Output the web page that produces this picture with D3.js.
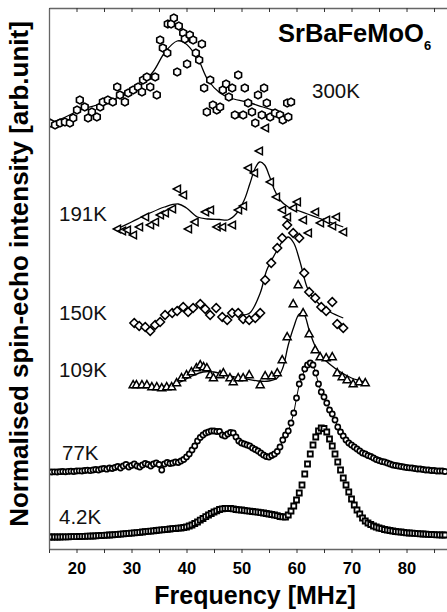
<!DOCTYPE html>
<html>
<head>
<meta charset="utf-8">
<script src="https://cdn.jsdelivr.net/npm/d3@7"></script>
<style>
  body { margin: 0; background: #fff; }
  svg { display: block; }
  text { font-family: Arial, "Liberation Sans", sans-serif; }
</style>
</head>
<body>
<svg width="447" height="612"></svg>
<script>
// ---- data (frequency in MHz, intensity in arb. units incl. vertical offset) ----

// 300K (hexagons)
var f300 = [15.2,16.1,17.0,17.9,18.8,19.4,20.1,20.6,21.5,22.1,22.8,23.7,24.3,24.8,25.7,26.6,27.4,27.9,28.8,29.4,
            30.3,31.2,31.9,32.1,32.8,33.4,34.3,34.6,35.2,35.7,36.5,36.6,37.2,37.7,38.3,38.6,39.4,39.7,40.1,40.6,
            41.2,41.7,42.3,42.8,43.2,43.7,44.3,44.8,45.5,46.1,46.6,47.2,47.7,48.3,48.8,49.4,50.3,50.6,51.2,51.9,
            52.5,53.0,53.7,54.1,54.6,55.2,56.1,57.0,57.5,58.3,58.5,59.0];
var v300 = [426,424,426,427,426,431,439,449,442,431,437,432,442,447,449,447,462,454,447,456,
            459,462,457,469,472,462,472,454,509,501,496,525,525,531,477,523,516,510,485,514,
            509,496,489,505,461,437,469,444,439,442,459,465,452,461,434,474,434,461,446,437,
            426,454,434,461,446,432,436,434,429,446,432,447];
var fit300f = [15.2,18,20.6,25.5,31,33.9,36.1,38.3,39.4,41.9,43.9,46.1,47.9,51,53.9,57.5];
var fit300v = [426,432,439,447,461,477,497,508,507,492,469,456,451,447,442,436];

// 191K (left triangles)
var f191 = [27.4,28.3,29.2,30.3,31.4,32.5,33.4,34.3,35.2,36.1,37.4,38.3,39.4,40.3,41.5,43.4,44.3,45.5,46.5,48.3,
            49.4,50.3,51.2,52.3,53.2,54.3,55.2,56.3,57.4,58.3,59.4,60.1,61.2,62.1,63.4,64.3,65.4,66.5,67.2,68.5];
var v191 = [320,318,319,314,322,332,324,327,334,336,340,360,354,320,327,337,339,322,322,324,
            339,343,381,376,398,421,367,352,339,332,341,347,329,316,337,326,329,323,332,317];
var fit191f = [27.3,30,33,36,38.5,40,42,44,46,47.5,49,50.5,51.5,52.5,53.3,54.2,55,56,57,58.5,60,62,64,66,68.5];
var fit191v = [320,327,335,342,345,341,332,330,329.5,329,335,349,365,381,387,384,374,359,349,342,339,335,331,327,322];

// 150K (diamonds)
var f150 = [30.5,31.4,32.5,33.4,34.3,35.2,36.1,37.4,38.3,39.4,40.3,41.2,42.5,43.4,44.3,45.4,46.5,47.4,48.3,49.4,
            50.3,51.4,52.5,53.4,54.3,55.4,56.5,57.4,58.3,59.4,60.5,61.4,62.3,63.4,64.5,65.4,66.5,67.4,68.5];
var v150 = [226,223,222,218,224,227,234,236,238,242,237,241,245,240,234,241,232,229,236,236,
            230,229,231,236,269,286,301,311,324,316,311,276,257,251,242,238,247,225,221];
var fit150f = [50,51.5,53.4,54.6,56.5,57.5,58.5,59.5,60.6,61.9,62.8,64.3,66.1,68.5];
var fit150v = [234,236,256,279,299,308,312,306,288,262,253,244,237,231];

// 109K (up triangles)
var f109 = [30.3,30.9,31.9,32.8,33.7,34.6,35.5,36.4,37.3,38.2,39.1,40.0,40.9,41.8,42.5,43.1,43.7,44.3,44.9,46.1,
            46.7,47.9,48.5,49.4,50.3,51.4,53.4,54.3,55.5,56.5,57.4,58.3,59.4,60.3,61.2,62.3,63.4,64.3,65.4,66.5,
            67.4,68.3,69.2,70.3,71.4,72.5];
var v109 = [164,164,164,164,162,162,161,162,162,166,171,174,177,181,184,182,181,174,171,174,
            176,171,167,171,171,174,164,173,173,176,189,212,245,264,236,215,199,192,191,192,
            176,172,169,165,167,166];
var fit109f = [30,34,38,41,43,45,47,50,53,55,56.5,57.5,58.5,59.5,60.5,61.3,62.3,63.3,64.5,66,68,70,72.5];
var fit109v = [163,162,165,173,177,177,174,171,168,168,171,181,204,222,235,235,219,204,193,185,177,171,167];

// dense sweeps: 15 ... 87 MHz in 0.5 MHz steps
var sweepStart = 15, sweepStep = 0.5;
// 77K (circles)
var v77 = [77,77,77.2,77,77.3,77.5,77.2,77.6,77.8,77.5,
           78,78.2,78,78.5,78.8,78.4,79,79.5,79,80,
           80.5,79.8,81,80.5,81.5,82.5,81,83,84.5,82,
           83.5,85,83,82,84,85.5,84.5,83,85,86,
           84.5,79,85,86.5,85.5,86,87,86.5,88,89.5,
           92,95,99,103,108,111.5,114,116,117,118,
           118,117.5,117.5,114,113,115,116.5,116,112,108,
           106,105,104,103,101,99.5,98,96,94,92.5,
           92,93.5,95,97.5,102,109,114,118,126,136,
           151,165,172,180,184,186,184,176,165,157,
           152,146,139,135,129,122,117,113,109,106,
           104,102,100,98,96,95,93.5,92.5,91,89.5,
           88.5,87.5,87,86,85,84,83.5,83,82.5,82,
           81.5,81.2,81,80.5,80,80,79.5,79,79,78.5,
           78.5,78,78,78,77.5];
// 4.2K (squares)
var v4 = [12,12,12,12,12,12.1,12.2,12.2,12.3,12.3,
          12.4,12.5,12.6,12.7,12.8,12.9,13,13.2,13.3,13.5,
          13.6,13.8,14,14.2,14.4,14.6,14.8,15.1,15.3,15.6,
          15.8,16.1,16.4,16.7,17,17.3,17.6,17.9,18.2,18.5,
          18.8,19.1,19.4,19.7,20,20.3,20.5,20.8,21,21.5,
          22,23,24,25.5,27,28.8,30.5,32.3,34,35.5,
          37,38.2,39.5,40.2,40.5,40.6,40.5,40.1,39.5,39.2,
          39,38.6,38.2,37.8,37.5,37.1,36.8,36.4,36,35.5,
          35,34.5,34,33.3,32.5,32.2,32,34,38,43,
          49,56,64,75,85,95,104,112,118,121,
          120.5,117,110,103,95,87,79,71,64,57,
          50,44,39,35,31,28,26,24.5,23,22,
          21,20.3,19.5,19,18.5,18,17.5,17.2,17,16.6,
          16.2,16,15.8,15.6,15.4,15.2,15,14.8,14.6,14.5,
          14.3,14.2,14.1,14,14];

var majorTicks = [20,30,40,50,60,70,80];
var minorTicks = [15,25,35,45,55,65,75,85];
var tempLabels = ["300K","191K","150K","109K","77K","4.2K"];

// ---- layout ----
var svg = d3.select("svg"),
    mLeft = 49, mRight = 447, mTop = 8, mBottom = 549;

var x = d3.scaleLinear().domain([15, 87.36]).range([mLeft, mRight]);
var y = d3.scaleLinear().domain([0, 541]).range([mBottom, mTop]);

function zip(fs, vs){ return fs.map(function(f, i){ return {f: f, v: vs[i]}; }); }
function sweep(vs){ return vs.map(function(v, i){ return {f: sweepStart + i*sweepStep, v: v}; }); }

svg.append("defs").append("clipPath").attr("id", "plotclip")
  .append("rect").attr("x", mLeft).attr("y", mTop - 5).attr("width", mRight - mLeft + 5).attr("height", mBottom - mTop + 5);

var plot = svg.append("g").attr("clip-path", "url(#plotclip)");

var line = d3.line().x(function(d){ return x(d.f); }).y(function(d){ return y(d.v); })
  .curve(d3.curveCatmullRom.alpha(0.5));

// fit lines
[[fit300f, fit300v], [fit191f, fit191v], [fit150f, fit150v], [fit109f, fit109v]].forEach(function(p){
  plot.append("path").datum(zip(p[0], p[1]))
    .attr("d", line).attr("fill", "none").attr("stroke", "#000").attr("stroke-width", 1.3);
});
// 77K connecting line
plot.append("path").datum(sweep(v77))
  .attr("d", d3.line().x(function(d){ return x(d.f); }).y(function(d){ return y(d.v); }))
  .attr("fill", "none").attr("stroke", "#000").attr("stroke-width", 1);

// marker shapes
function hexagon(r){
  var p = d3.path();
  for (var k = 0; k < 6; k++){
    var a = Math.PI/6 + k*Math.PI/3;
    if (k === 0) p.moveTo(r*Math.cos(a), r*Math.sin(a)); else p.lineTo(r*Math.cos(a), r*Math.sin(a));
  }
  p.closePath();
  return p.toString();
}
var shapes = {
  hex: hexagon(3.9),
  ltri: "M-3.9,0L3.3,-3.8L3.3,3.8Z",
  diamond: "M0,-4.4L4.4,0L0,4.4L-4.4,0Z",
  utri: "M0,-4.4L4,2.7L-4,2.7Z",
  square: "M-2.5,-2.5h5v5h-5Z"
};

function drawMarkers(data, shape, sw){
  plot.append("g").selectAll("path").data(data).enter().append("path")
    .attr("transform", function(d){ return "translate(" + x(d.f) + "," + y(d.v) + ")"; })
    .attr("d", shapes[shape])
    .attr("fill", "#fff").attr("stroke", "#000").attr("stroke-width", sw);
}

drawMarkers(zip(f300, v300), "hex", 1.6);
drawMarkers(zip(f191, v191), "ltri", 1.5);
drawMarkers(zip(f150, v150), "diamond", 1.5);
drawMarkers(zip(f109, v109), "utri", 1.5);

plot.append("g").selectAll("circle").data(sweep(v77)).enter().append("circle")
  .attr("cx", function(d){ return x(d.f); }).attr("cy", function(d){ return y(d.v); })
  .attr("r", 2.6).attr("fill", "#fff").attr("stroke", "#000").attr("stroke-width", 1.6);

drawMarkers(sweep(v4), "square", 1.8);

// ---- axes ----
var allTicks = majorTicks.concat(minorTicks).sort(d3.ascending);

var xb = svg.append("g").attr("transform", "translate(0," + mBottom + ")")
  .call(d3.axisBottom(x).tickValues(allTicks).tickSize(4).tickSizeOuter(0)
    .tickFormat(function(d){ return majorTicks.indexOf(d) >= 0 ? d : ""; }));
xb.selectAll("text").attr("font-size", "16.5px").attr("font-weight", "bold")
  .attr("font-family", "Arial, 'Liberation Sans', sans-serif").attr("fill", "#000").attr("dy", "1.1em");

svg.append("g").attr("transform", "translate(0," + mTop + ")")
  .call(d3.axisTop(x).tickValues(allTicks).tickSize(-4).tickSizeOuter(0).tickFormat(""));

svg.append("g").attr("transform", "translate(" + mLeft + ",0)")
  .call(d3.axisLeft(y).tickValues([]).tickSizeOuter(0));

svg.selectAll(".domain").attr("stroke", "#666").attr("stroke-width", 1.3);
svg.selectAll(".tick line").attr("stroke", "#333").attr("stroke-width", 1);

// axis titles
svg.append("text").attr("x", 255).attr("y", 604).attr("text-anchor", "middle")
  .attr("font-size", "25px").attr("font-weight", "bold").text("Frequency [MHz]");

svg.append("text").attr("transform", "translate(28,274) rotate(-90)").attr("text-anchor", "middle")
  .attr("font-size", "26px").attr("font-weight", "bold").text("Normalised spin-echo intensity [arb.unit]");

// compound name
var title = svg.append("text").attr("x", 278).attr("y", 42)
  .attr("font-size", "25.5px").attr("font-weight", "bold").text("SrBaFeMoO");
title.append("tspan").attr("dy", 8).attr("font-size", "13px").text("6");

// temperature labels
var labelPos = [[312, 98], [59, 221], [59, 320], [59, 377], [62, 460], [59, 524]];
tempLabels.forEach(function(t, i){
  svg.append("text").attr("x", labelPos[i][0]).attr("y", labelPos[i][1])
    .attr("font-size", "20.5px").attr("fill", "#111").text(t);
});
</script>
</body>
</html>
